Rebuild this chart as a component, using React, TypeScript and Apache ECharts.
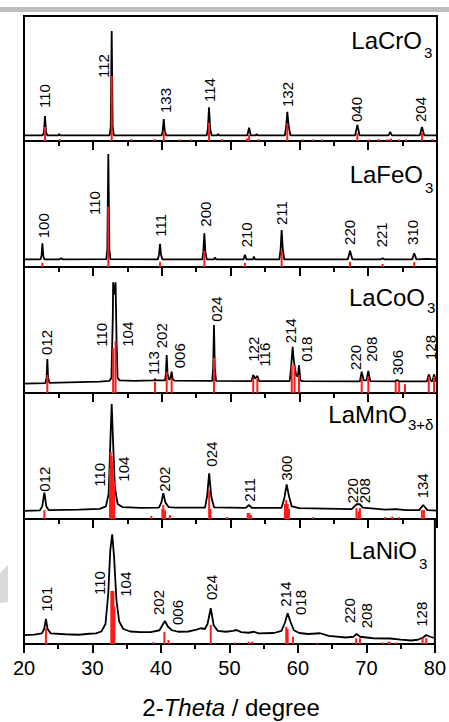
import React, { useEffect, useRef } from "react";
import * as echarts from "echarts";

// ---------- DATA ----------
const xTicks = [20, 30, 40, 50, 60, 70, 80];
const phaseNames = ["LaCrO", "LaFeO", "LaCoO", "LaMnO", "LaNiO"];
const phaseSubs = ["3", "3", "3", "3+δ", "3"];

// LaCrO3
const crTrace = [[20,4.5],[22.7,4.5],[22.9,7],[23.05,20],[23.2,7],[23.4,4.5],[25.0,4.5],[25.1,5.8],[25.2,4.5],[32.45,4.6],[32.6,12],[32.74,88],[32.88,12],[33.05,4.6],[36,4.5],[40.0,4.5],[40.15,8],[40.3,17.6],[40.45,8],[40.65,4.5],[46.55,4.5],[46.72,10],[46.88,27],[47.04,10],[47.25,4.5],[48.05,4.5],[48.2,5.6],[48.35,4.5],[52.45,4.5],[52.7,10.6],[52.95,4.5],[53.65,4.5],[53.8,5.6],[53.95,4.5],[57.9,4.6],[58.1,12],[58.25,23.4],[58.45,12],[58.7,4.6],[68.1,4.5],[68.43,12.8],[68.75,4.5],[72.95,4.5],[73.2,7.2],[73.45,4.5],[77.5,4.5],[77.82,11.2],[78.15,4.5],[80,4.5]];
const crSticks = [[23.05,11.2],[32.74,52],[40.3,8.2],[46.88,14.6],[52.7,4.8],[58.25,14.2],[68.43,6.4],[77.82,7.4],[25.2,1.5],[35.6,1.5],[39.0,1.5],[42.6,1.2],[44.3,1.2],[48.8,1.5],[52.4,2],[54.1,1.5],[60.5,1.2],[62,1.2],[63.3,1.2],[70.2,1.2],[71.5,1.5],[72.8,1.5],[73.3,2],[74.5,1.2],[75.5,1.2],[79.3,1.5]];
const crLabels = ["110","112","133","114","132","040","204"];
const crLabelPos = [[23.05,26.4],[31.52,50.4],[40.6,22.4],[46.88,31.2],[58.25,27.2],[68.33,15.2],[77.63,15.2]];

// LaFeO3
const feTrace = [[20,6.1],[22.4,6.1],[22.55,9],[22.67,18.8],[22.8,9],[22.95,6.1],[25.2,6.1],[25.4,7],[25.6,6.1],[31.95,6.3],[32.1,14],[32.25,89.7],[32.4,14],[32.55,6.3],[39.45,6.1],[39.62,10],[39.76,18.3],[39.9,10],[40.1,6.1],[45.9,6.1],[46.05,12],[46.2,26.7],[46.35,12],[46.55,6.1],[47.6,6.1],[47.75,7.7],[47.9,6.1],[51.9,6.1],[52.1,9.8],[52.3,6.1],[53.25,6.1],[53.4,8.2],[53.55,6.1],[57.1,6.1],[57.28,14],[57.43,29.4],[57.6,14],[57.8,6.1],[67.05,6.1],[67.36,12.9],[67.7,6.1],[71.85,6.1],[72.1,6.9],[72.35,6.1],[76.4,6.1],[76.7,10.9],[77.0,6.1],[78.5,6.4],[80,6.1]];
const feSticks = [[22.67,3.4],[32.25,47.9],[39.76,4],[46.2,12.7],[52.1,3.2],[57.43,12.7],[67.36,4],[72.1,2.4],[76.7,4]];
const feLabels = ["100","110","111","200","210","211","220","221","310"];
const feLabelPos = [[22.8,22.8],[30.3,41.3],[39.9,24],[46.3,32],[52.35,15.6],[57.43,33.3],[67.36,17.5],[71.87,15.6],[76.5,17.5]];

// LaCoO3
const coTrace = [[20,7.5],[23.1,7.9],[23.28,12],[23.39,27],[23.5,12],[23.7,8],[28,8.6],[31,9],[32.4,9.6],[32.7,12],[32.9,60],[32.95,87.9],[33.12,78],[33.3,87.9],[33.45,40],[33.6,12],[33.9,10],[36,9.6],[38.9,10],[39.03,11],[39.2,10],[40.5,10],[40.62,16],[40.73,30.2],[40.85,15],[41.1,10.5],[41.3,12],[41.45,16.9],[41.6,11],[41.9,9.8],[47.35,9.6],[47.48,20],[47.6,54],[47.72,20],[47.9,9.6],[53.05,9.5],[53.3,14.3],[53.55,11.5],[53.9,13.5],[54.15,9.5],[58.6,9.5],[58.8,20],[59.03,36.7],[59.15,28],[59.35,20],[59.55,14],[59.8,13],[59.95,22.2],[60.15,10],[60.5,9.4],[68.8,9.3],[69.06,16.9],[69.35,10],[69.75,10],[70.02,17.5],[70.3,9.4],[73.9,9.3],[74.2,10.2],[74.5,9.3],[78.55,9.3],[78.8,14.8],[79.15,9.5],[79.35,9.5],[79.57,14.8],[79.85,9.3],[80,9.3]];
const coSticks = [[23.39,14.3],[32.95,35.5],[33.3,41.3],[39.03,9],[40.73,16.9],[41.45,11.9],[47.6,28],[53.3,11.9],[53.9,11.9],[58.9,22.2],[59.3,22],[59.95,14.3],[69.06,11.7],[70.02,13],[74.0,9],[74.5,9],[75.35,7],[78.8,13],[79.57,13]];
const coLabels = ["012","110","104","113","202","006","024","122","116","214","018","220","208","306","128"];
const coLabelPos = [[23.3,30.2],[31.29,36.7],[35.0,36.7],[38.79,14.3],[40.0,35.5],[42.57,19.6],[48.0,56.6],[53.3,24.8],[54.87,20.9],[58.75,39.4],[60.97,24.8],[68.09,18.3],[70.51,24.8],[74.29,14.3],[78.99,26.2]];

// LaMnO3+δ
const mnTrace = [[20,6.5],[22.3,6.8],[22.65,10],[22.96,20.9],[23.25,10],[23.6,7],[28,7.5],[31,8],[31.9,10],[32.3,20],[32.6,70],[32.74,91.3],[32.95,60],[33.2,25],[33.6,12],[34.3,9.5],[37,8.8],[39.6,9],[39.95,13],[40.24,20.4],[40.55,13],[41.0,9.5],[42,9],[46.3,9],[46.6,18],[46.9,36.3],[47.2,18],[47.6,9.3],[52.2,8.8],[52.69,11.1],[53.1,8.8],[57.4,8.8],[57.8,16],[58.16,27.5],[58.5,18],[58.9,10],[60,8.6],[67.6,7.8],[68.1,10.5],[68.3,11.7],[68.8,11.7],[69.2,9],[72.5,7.5],[74,7.8],[75.5,7],[77.4,7],[78.0,11.1],[78.6,7],[80,6.6]];
const mnSticks = [[22.96,7.1],[32.5,40],[32.6,53.4],[32.74,50],[32.9,45],[33.1,30],[38.5,2.5],[40.1,8],[40.24,11.1],[40.5,7],[41.2,3],[46.9,23],[47.1,8],[49.5,1.5],[52.5,4.8],[52.75,4.8],[53.0,3],[57.9,12],[58.1,15.1],[58.3,12],[58.5,8],[62,1.5],[68.3,8.7],[68.6,6],[68.8,8.7],[72.5,1.5],[73.5,2],[74.5,1.5],[77.8,7.1],[78.1,7.1]];
const mnLabels = ["012","110","104","202","024","211","300","220","208","134"];
const mnLabelPos = [[23.05,21.7],[30.95,25.6],[34.43,29.6],[40.34,21.7],[47.27,41.5],[52.83,13.7],[58.16,30.4],[67.7,12.5],[69.45,12.5],[77.87,16.4]];

// LaNiO3
const niTrace = [[20,7.2],[21.5,7.5],[22.6,8.5],[22.95,12],[23.2,20],[23.45,12],[23.9,8.5],[26,7.8],[28,7.4],[29.5,8.2],[30.5,8.5],[31.3,10],[31.9,16],[32.3,40],[32.6,75],[32.88,87.8],[33.15,70],[33.5,35],[33.9,18],[34.5,12],[35.5,10],[37,9.5],[38.5,9.5],[39.8,11],[40.2,15],[40.58,18.4],[41.0,14],[41.6,11],[42.5,9.8],[44,10],[45.2,11.5],[45.8,12.6],[46.4,12],[46.8,16],[47.27,28.6],[47.7,15],[48.3,10.5],[49.5,9.8],[50.5,10.5],[51.04,11.2],[51.7,9.5],[52.8,9],[53.56,9.8],[54.3,8.5],[56.5,8.8],[57.6,10.5],[58.1,17],[58.5,24.6],[58.9,18],[59.4,11],[60.2,8.8],[61.5,8],[63.25,8.6],[64.5,6.5],[67,5.2],[68.1,5.8],[68.57,8],[69.1,5.8],[71,4.6],[73.5,4.4],[75,3.5],[76.5,2.8],[77.5,3.4],[78.3,5.2],[78.74,7.2],[79.3,5.8],[80,4.8]];
const niSticks = [[23.2,12.6],[32.75,42.4],[32.9,42.4],[33.05,42.4],[33.2,30],[38.9,1.5],[40.5,9.8],[41.1,3.2],[47.27,15.2],[50.8,1.2],[52.8,1.9],[53.3,1.9],[58.3,13.8],[58.5,12],[59.27,5.8],[62.8,1],[68.5,4.6],[69.06,4.6],[72.4,1.2],[73.2,1.8],[73.4,1.8],[74.3,1.2],[78.2,4.6],[78.74,4.6]];
const niLabels = ["101","110","104","202","006","024","214","018","220","208","128"];
const niLabelPos = [[23.3,25.8],[31.04,39.2],[34.82,37.8],[39.66,23.2],[42.43,15.2],[47.41,35.2],[58.16,29.8],[60.34,23.2],[67.51,16.6],[70.03,12.6],[78.02,13.8]];

const traces = [crTrace, feTrace, coTrace, mnTrace, niTrace];
const sticks = [crSticks, feSticks, coSticks, mnSticks, niSticks];
const labels = [crLabels, feLabels, coLabels, mnLabels, niLabels];
const labelPos = [crLabelPos, feLabelPos, coLabelPos, mnLabelPos, niLabelPos];

// ---------- LAYOUT ----------
const FONT = "Liberation Sans, Arial, sans-serif";
const panelTops = [16, 141, 267, 393, 519];
const panelHeights = [125, 126, 126, 126, 125];
const nameLayout = [
  { rx: 422, y: 40, sx: 424, sy: 52 },
  { rx: 423, y: 174, sx: 425, sy: 187 },
  { rx: 425, y: 297, sx: 427, sy: 307 },
  { rx: 407, y: 414, sx: 408, sy: 424 },
  { rx: 417, y: 550, sx: 419, sy: 563 },
];

export default function App() {
  const ref = useRef<HTMLDivElement>(null);
  useEffect(() => {
    if (!ref.current) return;
    const chart = echarts.init(ref.current, null, { renderer: "svg" });
    const grids: any[] = [];
    const xAxes: any[] = [];
    const yAxes: any[] = [];
    const series: any[] = [];
    const graphics: any[] = [];
    for (let i = 0; i < 5; i++) {
      const last = i === 4;
      grids.push({
        left: 24, right: 12, top: panelTops[i], height: panelHeights[i],
        show: true, borderColor: "#000", borderWidth: 2, backgroundColor: "transparent",
      });
      xAxes.push({
        type: "value", gridIndex: i, min: xTicks[0], max: xTicks[xTicks.length - 1], interval: 10,
        axisLine: { show: true, onZero: false, lineStyle: { color: "#000", width: 2 } },
        axisTick: { show: true, inside: false, length: 9, lineStyle: { color: "#000", width: 2 } },
        minorTick: { show: true, splitNumber: 2, length: 5, lineStyle: { color: "#000", width: 2 } },
        splitLine: { show: false },
        axisLabel: {
          show: last, color: "#000", fontSize: 20, fontFamily: FONT, margin: 14,
          showMinLabel: true, showMaxLabel: true,
        },
      });
      yAxes.push({ type: "value", gridIndex: i, min: 0, max: 100, show: false });
      series.push({
        type: "line", xAxisIndex: i, yAxisIndex: i, data: traces[i], showSymbol: false, symbol: "none",
        lineStyle: { color: "#000", width: 1.8 }, z: 2, silent: true,
      });
      series.push({
        type: "custom", xAxisIndex: i, yAxisIndex: i, data: sticks[i], z: 3, silent: true,
        renderItem: (params: any, api: any) => {
          const top = api.coord([api.value(0), api.value(1)]);
          const base = api.coord([api.value(0), 0]);
          return {
            type: "rect",
            shape: { x: top[0] - 1, y: top[1], width: 2, height: base[1] - top[1] },
            style: { fill: "#ff1a1a" },
          };
        },
      });
      const names = labels[i];
      series.push({
        type: "custom", xAxisIndex: i, yAxisIndex: i, data: labelPos[i], z: 4, silent: true, clip: false,
        renderItem: (params: any, api: any) => {
          const p = api.coord([api.value(0), api.value(1)]);
          return {
            type: "text", x: p[0], y: p[1], rotation: Math.PI / 2,
            style: {
              text: names[params.dataIndex], fill: "#000", fontSize: 15, fontFamily: FONT,
              align: "left", verticalAlign: "middle",
            },
          };
        },
      });
      const nl = nameLayout[i];
      graphics.push({
        type: "text", x: nl.rx, y: nl.y, z: 10,
        style: { text: phaseNames[i], fill: "#000", fontSize: 24, fontFamily: FONT, align: "right", verticalAlign: "middle" },
      });
      graphics.push({
        type: "text", x: nl.sx, y: nl.sy, z: 10,
        style: { text: phaseSubs[i], fill: "#000", fontSize: 15, fontFamily: FONT, align: "left", verticalAlign: "middle" },
      });
    }
    // decorative gray artifacts
    graphics.push({ type: "rect", shape: { x: 0, y: 7, width: 449, height: 5 }, style: { fill: "#bdbdbd" }, z: 0 });
    graphics.push({ type: "polygon", shape: { points: [[0, 573], [8, 565], [8, 602], [0, 603]] }, style: { fill: "#dadada" }, z: 0 });
    // axis title
    graphics.push({
      type: "text", x: 231, y: 707, z: 10,
      style: {
        text: "{n|2-}{i|Theta}{n| / degree}",
        align: "center", verticalAlign: "middle",
        rich: {
          n: { fontSize: 24, lineHeight: 24, fontFamily: FONT, fill: "#000" },
          i: { fontSize: 24, lineHeight: 24, fontFamily: FONT, fontStyle: "italic", fill: "#000" },
        },
      },
    });
    chart.setOption({
      animation: false,
      backgroundColor: "#fff",
      grid: grids,
      xAxis: xAxes,
      yAxis: yAxes,
      series,
      graphic: graphics,
    });
    return () => chart.dispose();
  }, []);
  return <div ref={ref} style={{ position: "absolute", left: 0, top: 0, width: 449, height: 722 }} />;
}
